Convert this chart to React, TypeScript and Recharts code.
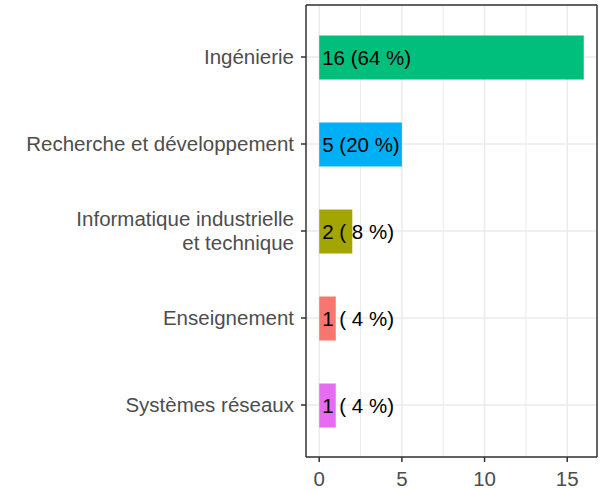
import React from 'react';
import { BarChart, Bar, XAxis, YAxis, CartesianGrid, Cell, LabelList } from 'recharts';

const categories = [
  'Ingénierie',
  'Recherche et développement',
  'Informatique industrielle\net technique',
  'Enseignement',
  'Systèmes réseaux',
];
const counts = [16, 5, 2, 1, 1];
const valueLabels = ['16 (64 %)', '5 (20 %)', '2 ( 8 %)', '1 ( 4 %)', '1 ( 4 %)'];
const barColors = ['#00BF7D', '#00B0F6', '#A3A500', '#F8766D', '#E76BF3'];
const majorTicks = [0, 5, 10, 15];
const minorTicks = [2.5, 7.5, 12.5];
const xDomain: [number, number] = [-0.8, 16.8];

const data = categories.map((c, i) => ({ name: c, value: counts[i], label: valueLabels[i] }));

const FONT = '"Liberation Sans", Arial, Helvetica, sans-serif';
const FS = 20.5;

const YTick = (props: any) => {
  const { x, y, payload } = props;
  const lines = String(payload.value).split('\n');
  const lh = 23.5;
  return (
    <text x={x} y={y} textAnchor="end" fill="#4D4D4D" fontSize={FS} fontFamily={FONT}>
      {lines.map((l, i) => (
        <tspan key={i} x={x} dy={i === 0 ? -((lines.length - 1) / 2) * lh + 0.35 * FS : lh}>
          {l}
        </tspan>
      ))}
    </text>
  );
};

const ValueLabel = (props: any) => {
  const { x, y, height, value } = props;
  return (
    <text x={Number(x) + 3} y={Number(y) + Number(height) / 2} dy="0.35em" fill="#000" fontSize={FS} fontFamily={FONT}>
      {value}
    </text>
  );
};

export default function App() {
  return (
    <div style={{ position: 'absolute', left: 0, top: 0, width: 603, height: 489, background: '#fff' }}>
      <BarChart
        width={603}
        height={489}
        data={data}
        layout="vertical"
        margin={{ top: 4, right: 5, left: 0, bottom: 0 }}
        barCategoryGap={0}
      >
        <CartesianGrid horizontal={false} vertical verticalValues={minorTicks} stroke="#EBEBEB" strokeWidth={1} fill="none" />
        <CartesianGrid horizontal vertical verticalValues={majorTicks} stroke="#EBEBEB" strokeWidth={1.6} fill="none" />
        <XAxis
          type="number"
          domain={xDomain}
          ticks={majorTicks}
          allowDataOverflow
          height={32}
          tickSize={5}
          tickMargin={9}
          tick={{ fill: '#4D4D4D', fontSize: FS, fontFamily: FONT }}
          tickLine={{ stroke: '#333', strokeWidth: 1.5 }}
          axisLine={{ stroke: '#333', strokeWidth: 1.5 }}
        />
        <XAxis
          xAxisId="top"
          orientation="top"
          type="number"
          domain={xDomain}
          allowDataOverflow
          height={1}
          ticks={majorTicks}
          tick={false}
          tickLine={false}
          axisLine={{ stroke: '#333', strokeWidth: 1.5 }}
        />
        <YAxis
          type="category"
          dataKey="name"
          width={306}
          padding={{ top: 8.5, bottom: 8.5 }}
          tickSize={5}
          tickMargin={7}
          tick={<YTick />}
          interval={0}
          tickLine={{ stroke: '#333', strokeWidth: 1.5 }}
          axisLine={{ stroke: '#333', strokeWidth: 1.5 }}
        />
        <YAxis
          yAxisId="right"
          orientation="right"
          type="category"
          dataKey="name"
          width={1}
          tick={false}
          tickLine={false}
          axisLine={{ stroke: '#333', strokeWidth: 1.5 }}
        />
        <Bar dataKey="value" barSize={44} isAnimationActive={false}>
          {data.map((d, i) => (
            <Cell key={d.name} fill={barColors[i]} />
          ))}
          <LabelList dataKey="label" content={<ValueLabel />} />
        </Bar>
      </BarChart>
    </div>
  );
}
